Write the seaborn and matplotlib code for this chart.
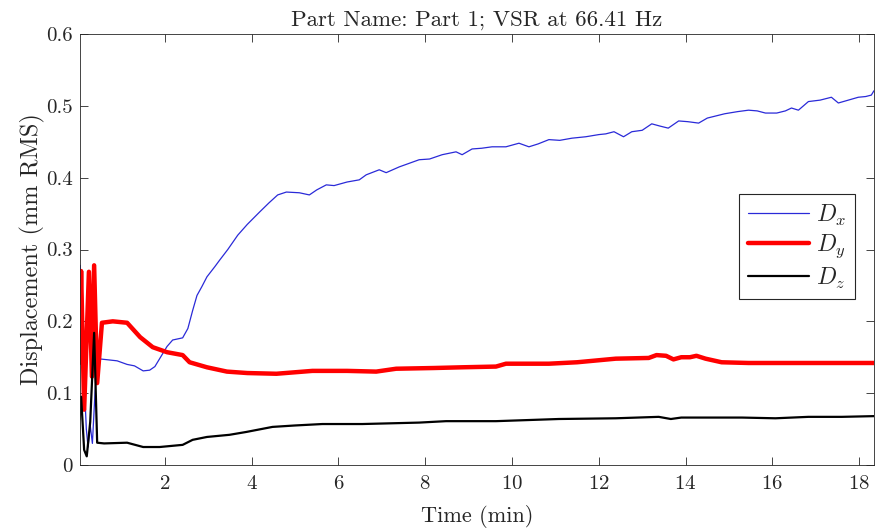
import numpy as np
import pandas as pd
import seaborn as sns
import matplotlib.pyplot as plt

# values (time in min, displacement in mm RMS)
t_x = [0.05, 0.09, 0.14, 0.19, 0.23, 0.28, 0.33, 0.39, 0.45, 0.6, 0.9, 1.13, 1.3, 1.5, 1.65,
       1.77, 1.9, 2.05, 2.18, 2.41, 2.53, 2.64, 2.74, 2.85, 2.97, 3.15, 3.26, 3.45, 3.68,
       3.9, 4.18, 4.4, 4.6, 4.8, 5.1, 5.33, 5.5, 5.72, 5.9, 6.2, 6.48, 6.64, 6.94, 7.1, 7.4,
       7.86, 8.1, 8.39, 8.71, 8.85, 9.08, 9.3, 9.54, 9.86, 10.16, 10.39, 10.6, 10.85,
       11.1, 11.38, 11.7, 12.0, 12.16, 12.35, 12.57, 12.76, 13.0, 13.22, 13.4, 13.6,
       13.84, 14.05, 14.3, 14.5, 14.7, 14.9, 15.2, 15.45, 15.65, 15.84, 16.1, 16.3, 16.44,
       16.6, 16.83, 17.1, 17.36, 17.52, 17.75, 17.98, 18.15, 18.28, 18.34]
d_x = [0.278, 0.22, 0.12, 0.05, 0.025, 0.055, 0.03, 0.1, 0.148, 0.147, 0.145, 0.14, 0.138,
       0.131, 0.132, 0.137, 0.15, 0.165, 0.174, 0.177, 0.19, 0.215, 0.236, 0.248, 0.262,
       0.276, 0.285, 0.3, 0.32, 0.335, 0.352, 0.365, 0.376, 0.38, 0.379, 0.376, 0.383, 0.39,
       0.389, 0.394, 0.397, 0.404, 0.411, 0.407, 0.415, 0.425, 0.426, 0.432, 0.436, 0.432,
       0.44, 0.441, 0.443, 0.443, 0.448, 0.443, 0.447, 0.453, 0.452, 0.455, 0.457, 0.46,
       0.461, 0.464, 0.457, 0.464, 0.466, 0.475, 0.472, 0.469, 0.479, 0.478, 0.476, 0.483,
       0.486, 0.489, 0.492, 0.494, 0.493, 0.49, 0.49, 0.493, 0.497, 0.494, 0.506, 0.508,
       0.512, 0.504, 0.508, 0.512, 0.513, 0.515, 0.521]

t_y = [0.03, 0.07, 0.14, 0.25, 0.32, 0.37, 0.44, 0.55, 0.8, 1.13, 1.43, 1.72, 2.05, 2.41,
       2.57, 2.97, 3.43, 3.9, 4.57, 5.4, 6.2, 6.87, 7.33, 8.2, 8.85, 9.63, 9.86, 10.4,
       10.85, 11.5, 12.39, 13.15, 13.33, 13.55, 13.72, 13.9, 14.1, 14.25, 14.46, 14.83,
       15.45, 16.5, 17.5, 18.34]
d_y = [0.142, 0.27, 0.077, 0.269, 0.123, 0.278, 0.114, 0.198, 0.2, 0.198, 0.178, 0.164,
       0.157, 0.153, 0.143, 0.136, 0.13, 0.128, 0.127, 0.131, 0.131, 0.13, 0.134, 0.135,
       0.136, 0.137, 0.141, 0.141, 0.141, 0.143, 0.148, 0.149, 0.153, 0.152, 0.147, 0.15,
       0.15, 0.152, 0.148, 0.143, 0.142, 0.142, 0.142, 0.142]

t_z = [0.03, 0.07, 0.14, 0.2, 0.28, 0.37, 0.44, 0.6, 1.13, 1.5, 1.88, 2.41, 2.64, 2.97,
       3.49, 3.88, 4.48, 5.0, 5.63, 6.55, 7.86, 8.48, 9.63, 11.08, 12.39, 13.38, 13.66,
       13.9, 14.53, 15.3, 16.07, 16.83, 17.6, 18.34]
d_z = [0.063, 0.095, 0.021, 0.012, 0.06, 0.184, 0.031, 0.03, 0.031, 0.025, 0.025, 0.028,
       0.035, 0.039, 0.042, 0.046, 0.053, 0.055, 0.057, 0.057, 0.059, 0.061, 0.061, 0.064,
       0.065, 0.067, 0.064, 0.066, 0.066, 0.066, 0.065, 0.067, 0.067, 0.068]

sns.set_style("ticks")
plt.rcParams['font.family'] = ['cmr10', 'DejaVu Serif']
plt.rcParams['mathtext.fontset'] = 'cm'
plt.rcParams['axes.formatter.use_mathtext'] = True
plt.rcParams['xtick.direction'] = 'in'
plt.rcParams['ytick.direction'] = 'in'

fig = plt.figure(figsize=(8.77, 5.32), dpi=100)
ax = fig.add_axes([0.091, 0.126, 0.906, 0.810])

sns.lineplot(x=t_x, y=d_x, ax=ax, color='#2a2ad8', lw=0.9, label=r'$D_x$')
sns.lineplot(x=t_y, y=d_y, ax=ax, color='#ff0000', lw=3.2, label=r'$D_y$')
sns.lineplot(x=t_z, y=d_z, ax=ax, color='black', lw=1.6, label=r'$D_z$')

ax.set_xlim(0.04, 18.35)
ax.set_ylim(0, 0.6)
ax.set_xticks(np.arange(2, 19, 2))
ax.set_yticks(np.arange(0, 0.61, 0.1))
ax.set_yticklabels(['0', '0.1', '0.2', '0.3', '0.4', '0.5', '0.6'])
ax.tick_params(top=True, right=True, labelsize=15, length=6, width=0.6, colors='#262626')
ax.tick_params(axis='y', pad=5)
ax.tick_params(axis='x', pad=7)
for s in ax.spines.values():
    s.set_linewidth(0.6)
    s.set_color('#262626')

ax.set_title('Part Name: Part 1; VSR at 66.41 Hz', fontsize=16.5, pad=6)
ax.set_xlabel('Time (min)', fontsize=16, labelpad=9)
ax.set_ylabel('Displacement (mm RMS)', fontsize=17.5, labelpad=1)

leg = ax.legend(loc='upper right', bbox_to_anchor=(0.975, 0.628), borderaxespad=0,
                fontsize=17, fancybox=False, edgecolor='#262626', framealpha=1,
                handlelength=2.6, borderpad=0.35, labelspacing=0.22, handletextpad=0.3)
leg.get_frame().set_linewidth(0.8)

fig.savefig('out.png', dpi=100)
